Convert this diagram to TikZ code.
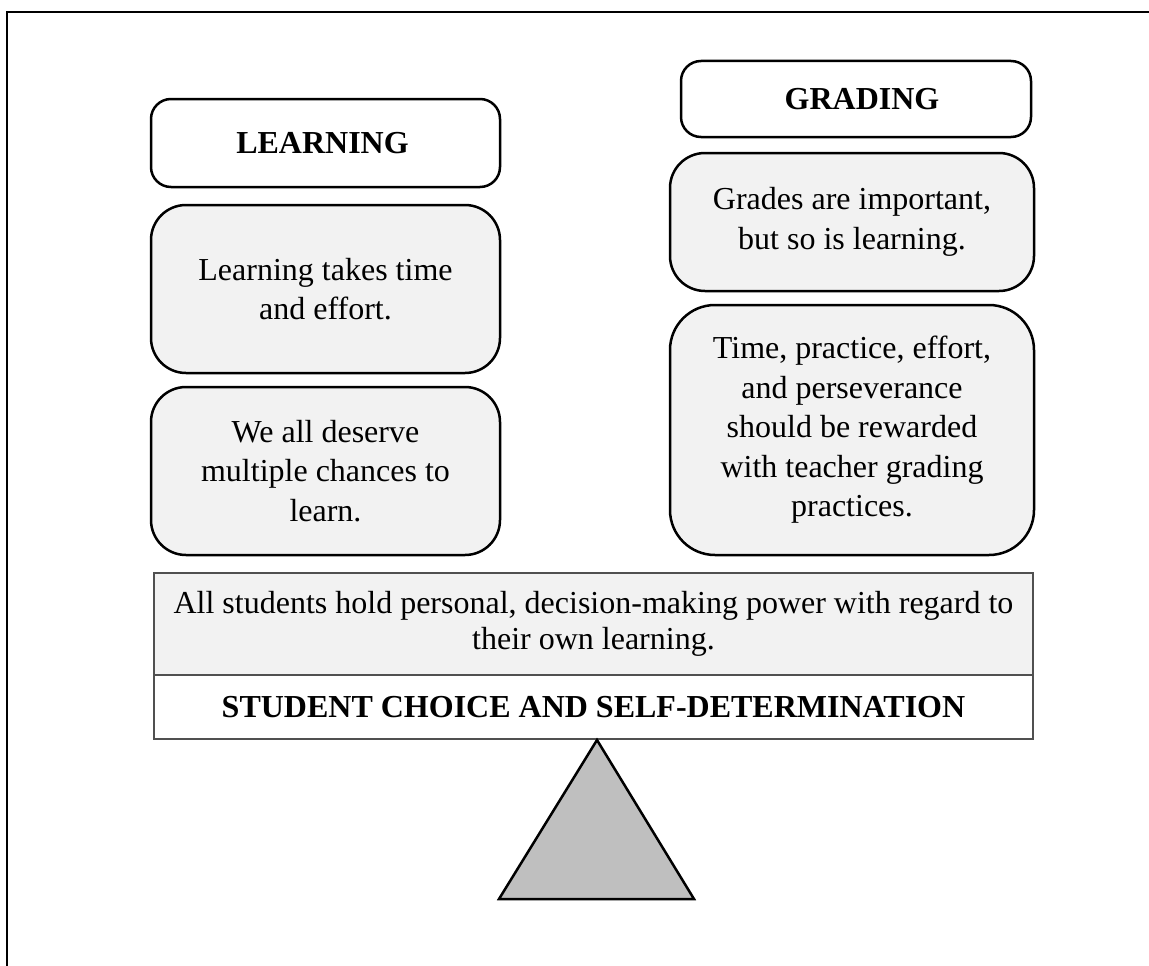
\documentclass[tikz,border=0pt]{standalone}
\usepackage{fontspec}
\setmainfont{Liberation Serif}
\definecolor{boxfill}{HTML}{F2F2F2}
\definecolor{trifill}{HTML}{BFBFBF}
\definecolor{beamline}{HTML}{505050}
\begin{document}
\begin{tikzpicture}[x=1pt,y=-1pt,
  txt/.style={font=\fontsize{32}{39.5}\selectfont, align=center, inner sep=0pt},
  headbox/.style={txt, draw=black, line width=2.5pt, fill=white, rounded corners=20pt, font=\fontsize{32}{39.5}\selectfont\bfseries},
  contentbox/.style={txt, draw=black, line width=2.5pt, fill=boxfill},
  beambox/.style={txt, draw=beamline, line width=1.5pt},
]
\useasboundingbox (0,0) rectangle (1149,966);
% outer frame (top and left edges visible)
\draw[line width=2.5pt] (7,966) -- (7,12) -- (1149,12);

% left column
\node[headbox, minimum width=349pt, minimum height=88pt] (learnH) at (325.5,143) {\hspace*{-6pt}LEARNING};
\node[contentbox, rounded corners=35pt, minimum width=349pt, minimum height=168pt] (learn1) at (325.5,289) {Learning takes time\\and effort.};
\node[contentbox, rounded corners=35pt, minimum width=349pt, minimum height=168pt] (learn2) at (325.5,471) {We all deserve\\multiple chances to\\learn.};

% right column
\node[headbox, minimum width=350pt, minimum height=76pt] (gradeH) at (856,99) {\hspace*{12pt}\raisebox{-3pt}{GRADING}};
\node[contentbox, rounded corners=35pt, minimum width=364pt, minimum height=138pt] (grade1) at (852,222) {Grades are important,\\but so is learning.};
\node[contentbox, rounded corners=45pt, minimum width=364pt, minimum height=250pt] (grade2) at (852,430) {Time, practice, effort,\\and perseverance\\should be rewarded\\with teacher grading\\practices.};

% beam
\node[beambox, fill=boxfill, minimum width=879pt, minimum height=102pt, font=\fontsize{32}{36}\selectfont] (beam1) at (593.5,624) {All students hold personal, decision-making power with regard to\\their own learning.};
\node[beambox, fill=white, minimum width=879pt, minimum height=64pt, font=\fontsize{32}{36}\selectfont\bfseries] (beam2) at (593.5,707) {STUDENT CHOICE AND SELF-DETERMINATION};

% fulcrum
\coordinate (apex) at (597,740);
\coordinate (baseL) at (499,899);
\coordinate (baseR) at (694,899);
\draw[line width=2.5pt, fill=trifill, line join=miter] (apex) -- (baseR) -- (baseL) -- cycle;
\end{tikzpicture}
\end{document}
